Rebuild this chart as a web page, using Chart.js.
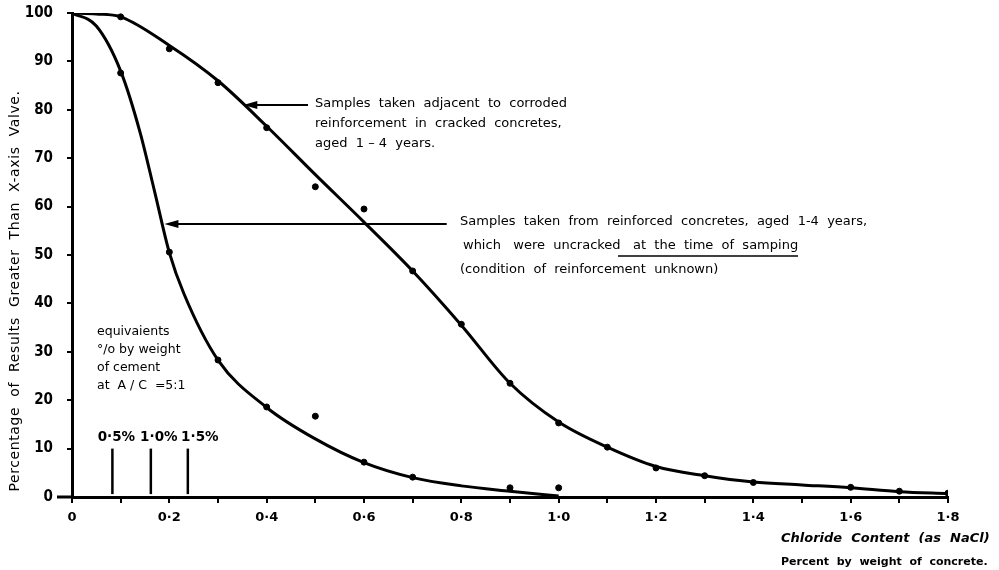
<!DOCTYPE html>
<html>
<head>
<meta charset="utf-8">
<script src="https://cdn.jsdelivr.net/npm/chart.js@4.4.1/dist/chart.umd.min.js"></script>
<style>
  html, body { margin: 0; padding: 0; background: #fff; }
  #wrap { width: 999px; height: 570px; position: relative; }
</style>
</head>
<body>
<div id="wrap"><canvas id="chloride"></canvas></div>
<script>
// fitted curve, cracked concretes (adjacent to corroded reinforcement)
const crackedCurveX = [0, 0.05, 0.1, 0.2, 0.3, 0.4, 0.5, 0.6, 0.7, 0.8, 0.9, 1.0, 1.1, 1.2, 1.3, 1.4, 1.5, 1.6, 1.7, 1.8];
const crackedCurveY = [100, 99.8, 99.2, 93.3, 86, 76.6, 66.6, 56.8, 46.7, 35.5, 23.5, 15.5, 10.3, 6.3, 4.4, 3.1, 2.5, 1.9, 1.1, 0.7];
// plotted results, cracked
const crackedPtsX = [0.1, 0.2, 0.3, 0.4, 0.5, 0.6, 0.7, 0.8, 0.9, 1.0, 1.1, 1.2, 1.3, 1.4, 1.6, 1.7, 1.8];
const crackedPtsY = [99.2, 92.6, 85.6, 76.3, 64.1, 59.5, 46.7, 35.7, 23.5, 15.3, 10.3, 6.0, 4.4, 3.0, 2.0, 1.2, 0.8];

// fitted curve, uncracked concretes
const uncrackedCurveX = [0, 0.05, 0.1, 0.14, 0.17, 0.2, 0.23, 0.3, 0.4, 0.5, 0.6, 0.7, 0.8, 0.9, 1.0];
const uncrackedCurveY = [100, 97.3, 88, 75.3, 63, 50.5, 42, 28.3, 18.5, 12, 7.1, 4, 2.3, 1.2, 0.2];
// plotted results, uncracked
const uncrackedPtsX = [0.1, 0.2, 0.3, 0.4, 0.5, 0.6, 0.7, 0.9, 1.0];
const uncrackedPtsY = [87.6, 50.6, 28.3, 18.6, 16.7, 7.2, 4.1, 1.9, 1.9];

// equivalents by weight of cement at A/C = 5:1
const equivX = [0.083, 0.162, 0.238];
const equivLabels = ['0·5%', '1·0%', '1·5%'];
const equivTop = 10;

const xMin = 0, xMax = 1.8, xStep = 0.1;
const yMin = 0, yMax = 100, yStep = 10;

const pts = (xs, ys) => xs.map((x, i) => ({ x: x, y: ys[i] }));

const curveStyle = {
  showLine: true, borderColor: '#000', borderWidth: 3, pointRadius: 0,
  cubicInterpolationMode: 'monotone', fill: false
};
const dotStyle = {
  showLine: false, pointRadius: 3, pointBackgroundColor: '#000', pointBorderColor: '#000'
};

const datasets = [
  Object.assign({ label: 'cracked', data: pts(crackedCurveX, crackedCurveY) }, curveStyle),
  Object.assign({ label: 'cracked pts', data: pts(crackedPtsX, crackedPtsY) }, dotStyle),
  Object.assign({ label: 'uncracked', data: pts(uncrackedCurveX, uncrackedCurveY) }, curveStyle),
  Object.assign({ label: 'uncracked pts', data: pts(uncrackedPtsX, uncrackedPtsY) }, dotStyle)
];
equivX.forEach((x, i) => {
  datasets.push({
    label: equivLabels[i], data: [{ x: x, y: 0.6 }, { x: x, y: equivTop }],
    showLine: true, borderColor: '#000', borderWidth: 2.5, pointRadius: 0
  });
});

const FONT = '"DejaVu Sans", sans-serif';

function arrowLeft(ctx, x1, x2, y) {
  ctx.beginPath();
  ctx.moveTo(x1, y);
  ctx.lineTo(x2 + 8, y);
  ctx.lineWidth = 2;
  ctx.stroke();
  ctx.beginPath();
  ctx.moveTo(x2, y);
  ctx.lineTo(x2 + 14, y - 4);
  ctx.lineTo(x2 + 14, y + 4);
  ctx.closePath();
  ctx.fill();
}

// text, arrows and the stray part of the x axis
const notes = {
  id: 'notes',
  afterDraw(chart) {
    const ctx = chart.ctx;
    const xs = chart.scales.x, ys = chart.scales.y;
    const area = chart.chartArea;
    ctx.save();
    ctx.fillStyle = '#000';
    ctx.strokeStyle = '#000';

    // x axis runs a little past the y axis
    ctx.lineWidth = 3;
    ctx.beginPath();
    ctx.moveTo(area.left - 15, area.bottom);
    ctx.lineTo(area.left, area.bottom);
    ctx.stroke();

    // y axis title
    ctx.save();
    ctx.translate(15, 291);
    ctx.rotate(-Math.PI / 2);
    ctx.font = '14px ' + FONT;
    ctx.letterSpacing = '0.6px';
    ctx.textAlign = 'center';
    ctx.textBaseline = 'middle';
    ctx.fillText('Percentage  of  Results  Greater  Than  X-axis  Valve.', 0, 0);
    ctx.restore();

    // x axis title
    ctx.textAlign = 'left';
    ctx.textBaseline = 'middle';
    ctx.font = 'italic bold 13px ' + FONT;
    ctx.fillText('Chloride  Content  (as  NaCl)', 781, 539);
    ctx.font = 'bold 11px ' + FONT;
    ctx.fillText('Percent  by  weight  of  concrete.', 781, 562);

    // cracked note
    ctx.font = '13px ' + FONT;
    const y1 = ys.getPixelForValue(81);
    arrowLeft(ctx, xs.getPixelForValue(0.485), xs.getPixelForValue(0.352), y1);
    ctx.fillText('Samples  taken  adjacent  to  corroded', 315, 104);
    ctx.fillText('reinforcement  in  cracked  concretes,', 315, 124);
    ctx.fillText('aged  1 – 4  years.', 315, 144);

    // uncracked note
    const y2 = ys.getPixelForValue(56.4);
    arrowLeft(ctx, xs.getPixelForValue(0.77), xs.getPixelForValue(0.19), y2);
    ctx.fillText('Samples  taken  from  reinforced  concretes,  aged  1-4  years,', 460, 222);
    ctx.fillText('which   were  uncracked   at  the  time  of  samping', 463, 246);
    ctx.fillText('(condition  of  reinforcement  unknown)', 460, 270);
    ctx.lineWidth = 1.5;
    ctx.beginPath();
    ctx.moveTo(618, 256);
    ctx.lineTo(798, 256);
    ctx.stroke();

    // equivalents note
    ctx.font = '12.5px ' + FONT;
    ['equivaients', '°/o by weight', 'of cement', 'at  A / C  =5:1'].forEach((t, i) => {
      ctx.fillText(t, 97, 332 + i * 18);
    });
    ctx.font = 'bold 13.5px ' + FONT;
    ctx.textAlign = 'center';
    equivX.forEach((x, i) => {
      ctx.fillText(equivLabels[i], xs.getPixelForValue(x) + 4 + i * 4, ys.getPixelForValue(equivTop) - 11);
    });
    ctx.restore();
  }
};

const fmt = v => {
  const r = Math.round(v * 10) / 10;
  if (r === 0) return '0';
  return r.toFixed(1).replace('.', '·');
};

new Chart(document.getElementById('chloride'), {
  type: 'scatter',
  data: { datasets: datasets },
  options: {
    responsive: true,
    maintainAspectRatio: false,
    animation: false,
    layout: { padding: { left: 0, right: 51, top: 13, bottom: 0 } },
    plugins: { legend: { display: false }, tooltip: { enabled: false } },
    scales: {
      x: {
        type: 'linear', min: xMin, max: xMax,
        afterFit(s) { s.height = 73; },
        afterBuildTicks(s) {
          const t = [];
          for (let i = 0; i <= Math.round((xMax - xMin) / xStep); i++) t.push({ value: xMin + i * xStep });
          s.ticks = t;
        },
        border: { color: '#000', width: 3 },
        grid: { drawOnChartArea: false, color: '#000', lineWidth: 2, tickLength: 6 },
        ticks: {
          color: '#000', padding: 7,
          font: { family: '"DejaVu Sans", sans-serif', size: 13, weight: 'bold' },
          maxRotation: 0, autoSkip: false,
          callback: (v) => (Math.round(v * 10) % 2 === 0 ? fmt(v) : '')
        }
      },
      y: {
        type: 'linear', min: yMin, max: yMax,
        afterFit(s) { s.width = 72; s.paddingTop = 0; s.paddingBottom = 0; },
        border: { color: '#000', width: 3 },
        grid: { drawOnChartArea: false, color: '#000', lineWidth: 2, tickLength: 5 },
        ticks: {
          stepSize: yStep, color: '#000', padding: 14,
          font: { family: '"DejaVu Sans Condensed", "Liberation Sans", sans-serif', size: 15, weight: 'bold' }
        }
      }
    }
  },
  plugins: [notes]
});
</script>
</body>
</html>
